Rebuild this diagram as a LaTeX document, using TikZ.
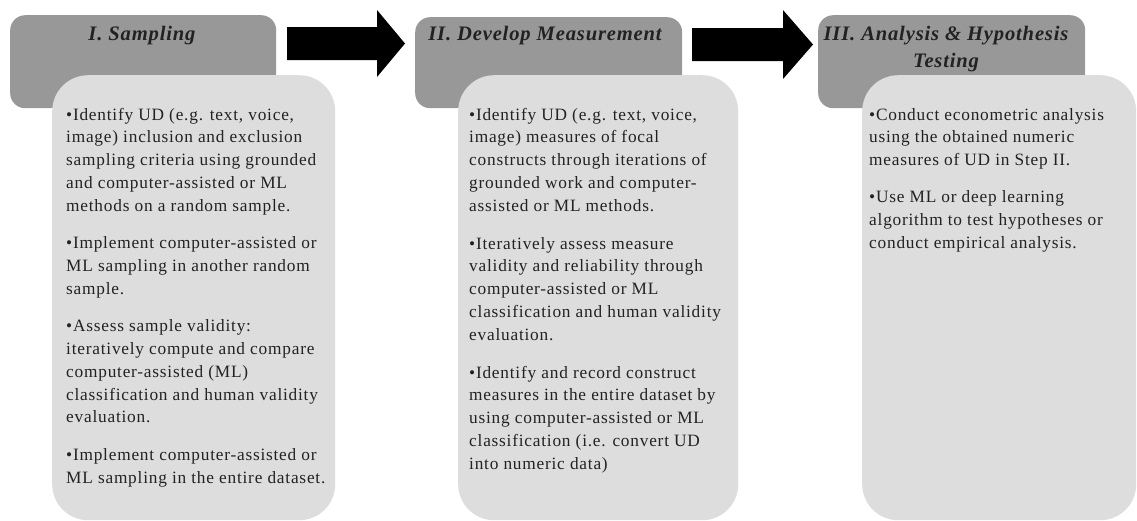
\documentclass[tikz,border=0pt]{standalone}
\usepackage{fontspec}
\setmainfont{Liberation Serif}
\definecolor{headfill}{RGB}{152,152,152}
\definecolor{bodyfill}{RGB}{221,221,221}
\definecolor{txt}{RGB}{34,34,34}
\begin{document}
\begin{tikzpicture}[x=1pt,y=-1pt,
  headbox/.style={draw=none,fill=headfill,rounded corners=15pt,anchor=north west,inner sep=0pt},
  bodybox/.style={draw=none,fill=bodyfill,rounded corners=36pt,anchor=north west,inner sep=0pt},
  headtext/.style={anchor=base,inner sep=0pt,align=center,text=txt,
     font=\addfontfeature{LetterSpace=4}\fontsize{20.6}{26.5}\selectfont\bfseries\itshape},
  bodytext/.style={anchor=north west,inner sep=0pt,align=left,text=txt,
     font=\addfontfeature{LetterSpace=4.5}\fontsize{17.3}{22.8}\selectfont},
  bigarrow/.style={fill=black,draw=none}]
\useasboundingbox (0,0) rectangle (1137,520);
\fill[white] (0,0) rectangle (1137,520);
% headers
\node[headbox,minimum width=266pt,minimum height=93pt] (h1) at (10,15) {};
\node[headbox,minimum width=267pt,minimum height=91pt] (h2) at (415,17) {};
\node[headbox,minimum width=267pt,minimum height=93pt] (h3) at (818,15) {};
% bodies
\node[bodybox,minimum width=283pt,minimum height=445pt] (b1) at (52,75) {};
\node[bodybox,minimum width=280pt,minimum height=445pt] (b2) at (458,75) {};
\node[bodybox,minimum width=274pt,minimum height=445pt] (b3) at (862,75) {};
% header texts
\node[headtext] (ht1) at (142,40) {I. Sampling};
\node[headtext] (ht2) at (545,40) {II. Develop Measurement};
\node[headtext] (ht3) at (946,67) {III. Analysis \& Hypothesis\\Testing};
% arrows
\fill[bigarrow] (287,27) -- (377,27) -- (377,10) -- (405,43.5) -- (377,77) -- (377,60) -- (287,60) -- cycle;
\fill[bigarrow] (692,28) -- (783,28) -- (783,10) -- (813,44.5) -- (783,79) -- (783,61) -- (692,61) -- cycle;
% body texts
\node[bodytext] (t1) at (66,104) {\strut •Identify UD (e.g. text, voice,\\
image) inclusion and exclusion\\
sampling criteria using grounded\\
and computer-assisted or ML\\
methods on a random sample.\\[14.6pt]
•Implement computer-assisted or\\
ML sampling in another random\\
sample.\\[14.6pt]
•Assess sample validity:\\
iteratively compute and compare\\
computer-assisted (ML)\\
classification and human validity\\
evaluation.\\[14.6pt]
•Implement computer-assisted or\\
ML sampling in the entire dataset.};
\node[bodytext] (t2) at (469,104) {\strut •Identify UD (e.g. text, voice,\\
image) measures of focal\\
constructs through iterations of\\
grounded work and computer-\\
assisted or ML methods.\\[15pt]
•Iteratively assess measure\\
validity and reliability through\\
computer-assisted or ML\\
classification and human validity\\
evaluation.\\[15pt]
•Identify and record construct\\
measures in the entire dataset by\\
using computer-assisted or ML\\
classification (i.e. convert UD\\
into numeric data)};
\node[bodytext] (t3) at (869,104) {\strut •Conduct econometric analysis\\
using the obtained numeric\\
measures of UD in Step II.\\[14pt]
•Use ML or deep learning\\
algorithm to test hypotheses or\\
conduct empirical analysis.};
\end{tikzpicture}
\end{document}
